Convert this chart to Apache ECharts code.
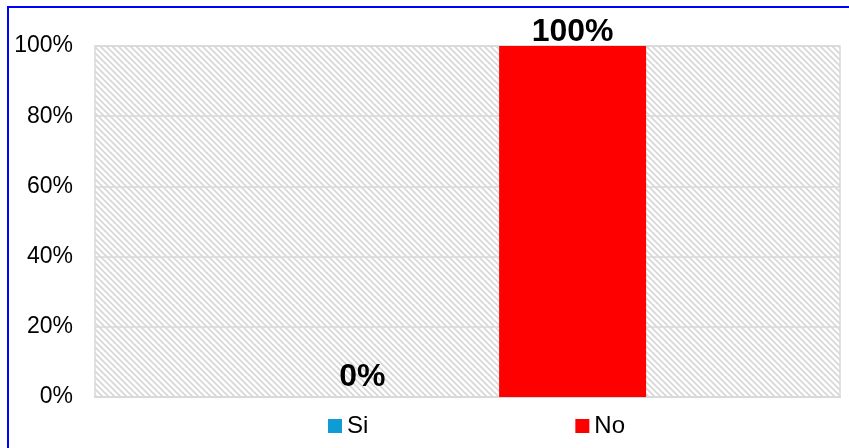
<!DOCTYPE html>
<html>
<head>
<meta charset="utf-8">
<script src="https://cdn.jsdelivr.net/npm/echarts@6/dist/echarts.min.js"></script>
<style>
  html, body { margin: 0; padding: 0; background: #fff; }
  #chart { width: 849px; height: 448px; }
</style>
</head>
<body>
<div id="chart"></div>
<script>
var categories = [''];
var seriesNames = ['Si', 'No'];
var siValues = [0];
var noValues = [100];
var yTicks = [0, 20, 40, 60, 80, 100];

var colors = {
    si: '#0f9bd3',
    no: '#ff0000',
    grid: '#d9d9d9',
    frame: '#0000ff'
};

// hatch tile like the Excel "wide downward diagonal" fill
var makeHatch = function () {
    var size = 6;
    var c = document.createElement('canvas');
    c.width = size;
    c.height = size;
    var ctx = c.getContext('2d');
    ctx.fillStyle = '#ffffff';
    ctx.fillRect(0, 0, size, size);
    ctx.strokeStyle = '#d6d6d6';
    ctx.lineWidth = 1.6;
    ctx.beginPath();
    ctx.moveTo(-1, -1); ctx.lineTo(size + 1, size + 1);
    ctx.moveTo(-1, size - 1); ctx.lineTo(1, size + 1);
    ctx.moveTo(size - 1, -1); ctx.lineTo(size + 1, 1);
    ctx.stroke();
    return c;
};

var font = '"Liberation Sans", Arial, sans-serif';
var chart = echarts.init(document.getElementById('chart'));

chart.setOption({
    animation: false,
    backgroundColor: '#ffffff',
    textStyle: { fontFamily: font },
    graphic: [{
        type: 'rect',
        silent: true,
        z: 100,
        shape: { x: 8, y: 7, width: 900, height: 500 },
        style: { fill: 'none', stroke: colors.frame, lineWidth: 2 }
    }],
    grid: {
        left: 95,
        right: 9,
        top: 46,
        bottom: 51,
        show: true,
        backgroundColor: { image: makeHatch(), repeat: 'repeat' },
        borderColor: colors.grid,
        borderWidth: 1.5
    },
    legend: {
        data: seriesNames,
        left: 323,
        top: 409,
        itemWidth: 14,
        itemHeight: 14,
        itemGap: 207,
        icon: 'rect',
        textStyle: { fontSize: 24, color: '#000', fontFamily: font }
    },
    xAxis: {
        type: 'category',
        data: categories,
        axisTick: { show: false },
        axisLabel: { show: false },
        axisLine: { lineStyle: { color: colors.grid, width: 2 } }
    },
    yAxis: {
        type: 'value',
        min: yTicks[0],
        max: yTicks[yTicks.length - 1],
        interval: 20,
        axisLine: { show: false },
        axisTick: { show: false },
        splitLine: { lineStyle: { color: colors.grid, width: 1.5 } },
        axisLabel: {
            formatter: '{value}%',
            fontSize: 23,
            color: '#000',
            margin: 22,
            fontFamily: font
        }
    },
    series: [{
        name: seriesNames[0],
        type: 'bar',
        data: siValues,
        barWidth: 147,
        barGap: '43%',
        itemStyle: { color: colors.si },
        label: {
            show: true,
            position: 'top',
            distance: 4,
            formatter: '{c}%',
            fontSize: 32,
            fontWeight: 'bold',
            color: '#000',
            fontFamily: font
        }
    }, {
        name: seriesNames[1],
        type: 'bar',
        data: noValues,
        barWidth: 147,
        itemStyle: { color: colors.no },
        label: {
            show: true,
            position: 'top',
            distance: -2,
            formatter: '{c}%',
            fontSize: 32,
            fontWeight: 'bold',
            color: '#000',
            fontFamily: font
        }
    }]
});
</script>
</body>
</html>
